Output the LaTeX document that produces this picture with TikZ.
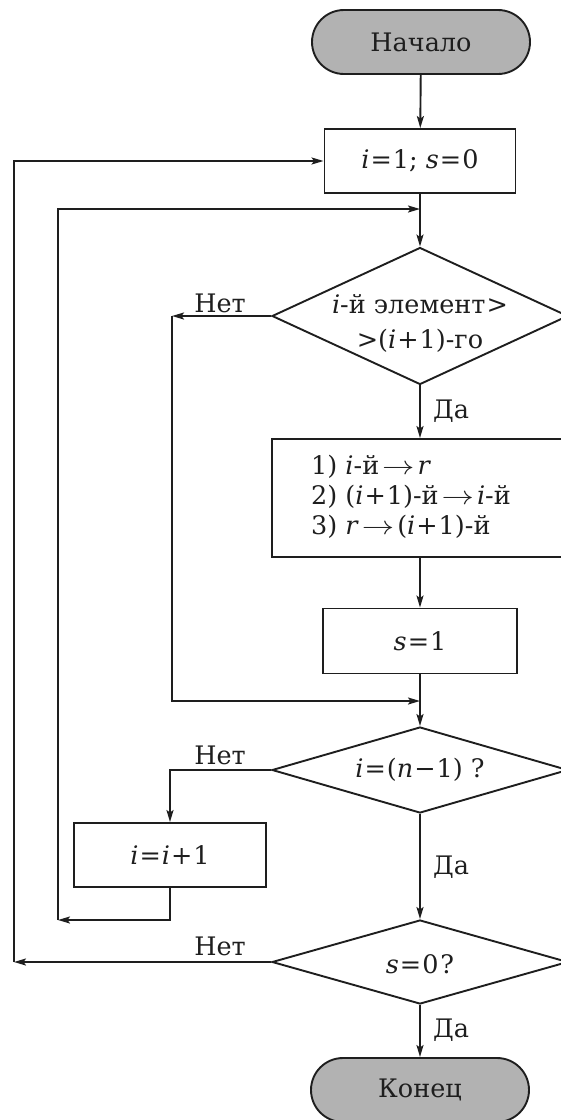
\documentclass[tikz,border=0pt]{standalone}
\usepackage{graphicx}
\usepackage{fontspec}
\setmainfont{DejaVu Serif}
\usetikzlibrary{shapes.geometric,arrows.meta}
\definecolor{termgray}{RGB}{178,178,178}
\definecolor{ink}{RGB}{30,30,30}
\newcommand{\mv}[1]{\textit{#1}}
\newcommand{\Eq}{\kern1pt=\kern1pt}
\newcommand{\Pl}{\kern1pt+\kern1pt}
\newcommand{\Mn}{\kern1pt−\kern1pt}
\newcommand{\Ar}{\kern3pt\scalebox{1.3}[1.05]{$\rightarrow$}\kern3pt}
\begin{document}
\begin{tikzpicture}[x=1pt,y=-1pt,
  every node/.style={font=\fontsize{25.5}{30}\selectfont, text=ink},
  line/.style={line width=1.9pt, draw=ink},
  arr/.style={line, -{Stealth[length=12pt,width=7pt,inset=2.5pt]}},
  term/.style={draw=ink, line width=1.9pt, rectangle, rounded corners=32pt, fill=termgray, minimum width=218pt, minimum height=64pt, inner sep=0pt},
  proc/.style={draw=ink, line width=1.9pt, rectangle, inner sep=0pt},
  dec/.style={draw=ink, line width=1.9pt, diamond, inner sep=0pt},
  lbl/.style={inner sep=0pt}
]
\useasboundingbox (0,0) rectangle (561,1120);
\clip (0,0) rectangle (561,1120);

% nodes
\node[term] (start) at (421,42) {Начало};
\node[proc, minimum width=191pt, minimum height=64pt] (b1) at (420,161) {\mv{i}\Eq1; \mv{s}\Eq0};
\node[dec, minimum width=296pt, minimum height=137pt] (d1) at (420,316) {};
\node[lbl, align=center, font=\fontsize{25.5}{35}\selectfont] (d1t) at (420,323) {\mv{i}-й элемент\kern1pt>\\>(\mv{i}\Pl1)-го};
\node[proc, minimum width=296pt, minimum height=118pt] (b2) at (420,498) {};
\node[lbl, anchor=west, align=left, font=\fontsize{25.5}{30}\selectfont] (b2t) at (311,497) {1) \mv{i}-й\Ar\mv{r}\\2) (\mv{i}\Pl1)-й\Ar\mv{i}-й\\3) \mv{r}\Ar(\mv{i}\Pl1)-й};
\node[proc, minimum width=194pt, minimum height=65pt] (s1) at (420,641) {\mv{s}\Eq1};
\node[dec, minimum width=296pt, minimum height=86pt] (d2) at (420,770) {};
\node[lbl] (d2t) at (420,770) {\mv{i}\Eq(\mv{n}\Mn1) ?};
\node[proc, minimum width=192pt, minimum height=64pt] (ii) at (170,855) {\mv{i}\Eq\mv{i}\Pl1};
\node[dec, minimum width=296pt, minimum height=84pt] (d3) at (420,962) {};
\node[lbl] (d3t) at (420,964) {\mv{s}\Eq0\kern2pt?};
\node[term] (end) at (420,1090) {Конец};

% labels
\node[lbl] (no1) at (220,303) {Нет};
\node[lbl] (no2) at (220,755) {Нет};
\node[lbl] (no3) at (220,946) {Нет};
\node[lbl] (yes1) at (451,411) {Да};
\node[lbl] (yes2) at (451,867) {Да};
\node[lbl] (yes3) at (451,1030) {Да};

% helper coordinates
\coordinate (n1) at (172,316);
\coordinate (j1) at (420,701);
\coordinate (r1) at (58,920);
\coordinate (r1top) at (58,209);
\coordinate (j0) at (420,209);
\coordinate (r2) at (14,962);
\coordinate (r2top) at (14,161);

% connectors
\draw[arr] (start) -- (b1);
\draw[arr] (b1) -- (d1);
\draw[arr] (r1) -- (r1top) -- (j0);
\draw[arr] (d1.west) -- (n1);
\draw[arr] (n1) |- (j1);
\draw[arr] (d1) -- (b2);
\draw[arr] (b2) -- (s1);
\draw[arr] (s1) -- (d2);
\draw[arr] (d2.west) -| (ii.north);
\draw[arr] (ii.south) |- (r1);
\draw[arr] (d2) -- (d3);
\draw[arr] (d3.west) -- (r2);
\draw[arr] (r2) -- (r2top) -- (b1.west);
\draw[arr] (d3) -- (end);
\end{tikzpicture}
\end{document}
